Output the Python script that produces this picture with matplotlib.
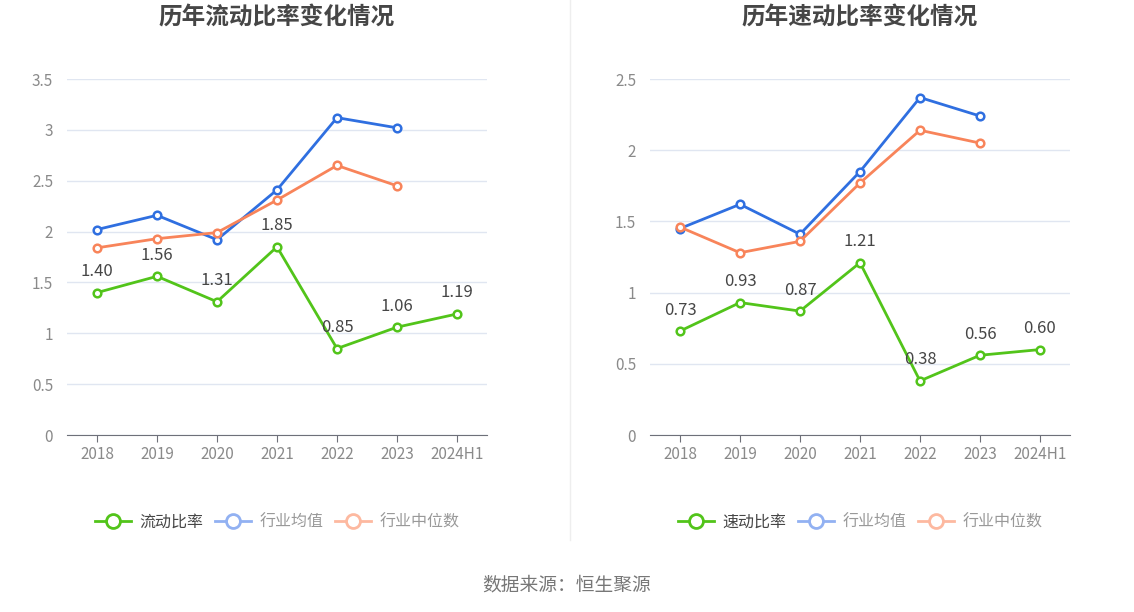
import matplotlib
matplotlib.use('Agg')
import matplotlib.pyplot as plt
from matplotlib.lines import Line2D

plt.rcParams['font.family'] = ['Noto Sans CJK SC', 'DejaVu Sans']

years = ['2018', '2019', '2020', '2021', '2022', '2023', '2024H1']

# 流动比率
current_ratio = [1.40, 1.56, 1.31, 1.85, 0.85, 1.06, 1.19]
current_ind_mean = [2.02, 2.16, 1.92, 2.41, 3.12, 3.02]
current_ind_median = [1.84, 1.93, 1.99, 2.31, 2.65, 2.45]

# 速动比率
quick_ratio = [0.73, 0.93, 0.87, 1.21, 0.38, 0.56, 0.60]
quick_ind_mean = [1.45, 1.62, 1.41, 1.85, 2.37, 2.24]
quick_ind_median = [1.46, 1.28, 1.36, 1.77, 2.14, 2.05]

green = '#52c41a'
blue = '#2f6fe0'
orange = '#f8845a'
grid_c = '#e0e6f1'
axis_c = '#6e7079'

fig = plt.figure(figsize=(11.34, 6.12), dpi=100)
fig.patch.set_facecolor('white')


def draw(ax, title, name, main, mean, median, ymax):
    x = list(range(len(years)))
    ax.plot(x[:len(mean)], mean, color=blue, lw=2, marker='o', ms=5.5,
            mfc='white', mec=blue, mew=1.8, zorder=3)
    ax.plot(x[:len(median)], median, color=orange, lw=2, marker='o', ms=5.5,
            mfc='white', mec=orange, mew=1.8, zorder=3)
    ax.plot(x, main, color=green, lw=2, marker='o', ms=5.5,
            mfc='white', mec=green, mew=1.8, zorder=4)
    for xi, v in zip(x, main):
        ax.annotate('%.2f' % v, (xi, v), xytext=(0, 21), textcoords='offset pixels',
                    ha='center', va='center', fontsize=12, color='#464646', zorder=5)

    ax.set_xlim(-0.5, len(years) - 0.5)
    ax.set_ylim(0, ymax)
    yt = [i * 0.5 for i in range(int(ymax / 0.5) + 1)]
    ax.set_yticks(yt)
    ax.set_yticklabels(['%g' % t for t in yt])
    ax.set_xticks(x)
    ax.set_xticklabels(years)
    ax.grid(axis='y', color=grid_c, lw=1)
    ax.set_axisbelow(True)
    for s in ['top', 'right', 'left']:
        ax.spines[s].set_visible(False)
    ax.spines['bottom'].set_color(axis_c)
    ax.tick_params(axis='y', length=0, pad=10, labelsize=11, labelcolor='#8a8a8a')
    ax.tick_params(axis='x', length=5, color=axis_c, pad=3, labelsize=11, labelcolor='#8a8a8a')

    # title placed in figure pixels, centred over the axes
    pos = ax.get_position()
    fig.text(pos.x0 + pos.width / 2, 1 - 18 / 612, title, ha='center', va='center',
             fontsize=17, fontweight='bold', color='#464646')

    handles = [
        Line2D([], [], color=green, lw=2, marker='o', ms=10, mfc='white', mec=green, mew=2),
        Line2D([], [], color='#92b1f2', lw=2, marker='o', ms=10, mfc='white', mec='#92b1f2', mew=2),
        Line2D([], [], color='#fdb9a0', lw=2, marker='o', ms=10, mfc='white', mec='#fdb9a0', mew=2),
    ]
    leg = ax.legend(handles, [name, '行业均值', '行业中位数'], loc='center',
                    bbox_to_anchor=(0.5, -0.245), ncol=3, frameon=False,
                    fontsize=11.5, handlelength=2.3, columnspacing=0.7, handletextpad=0.5)
    cols = ['#464646', '#999999', '#999999']
    for t, c in zip(leg.get_texts(), cols):
        t.set_color(c)


ax1 = fig.add_axes([67 / 1134, 177 / 612, 420 / 1134, 356 / 612])
draw(ax1, '历年流动比率变化情况', '流动比率', current_ratio, current_ind_mean, current_ind_median, 3.5)

ax2 = fig.add_axes([650 / 1134, 177 / 612, 420 / 1134, 356 / 612])
draw(ax2, '历年速动比率变化情况', '速动比率', quick_ratio, quick_ind_mean, quick_ind_median, 2.5)

fig.add_artist(Line2D([570 / 1134, 570 / 1134], [72 / 612, 1.0], color='#eeeeee', lw=1))

fig.text(0.5, 1 - 585 / 612, '数据来源：恒生聚源', ha='center', va='center',
         fontsize=13.5, color='#777777')

fig.savefig('out.png', dpi=100, facecolor='white')
